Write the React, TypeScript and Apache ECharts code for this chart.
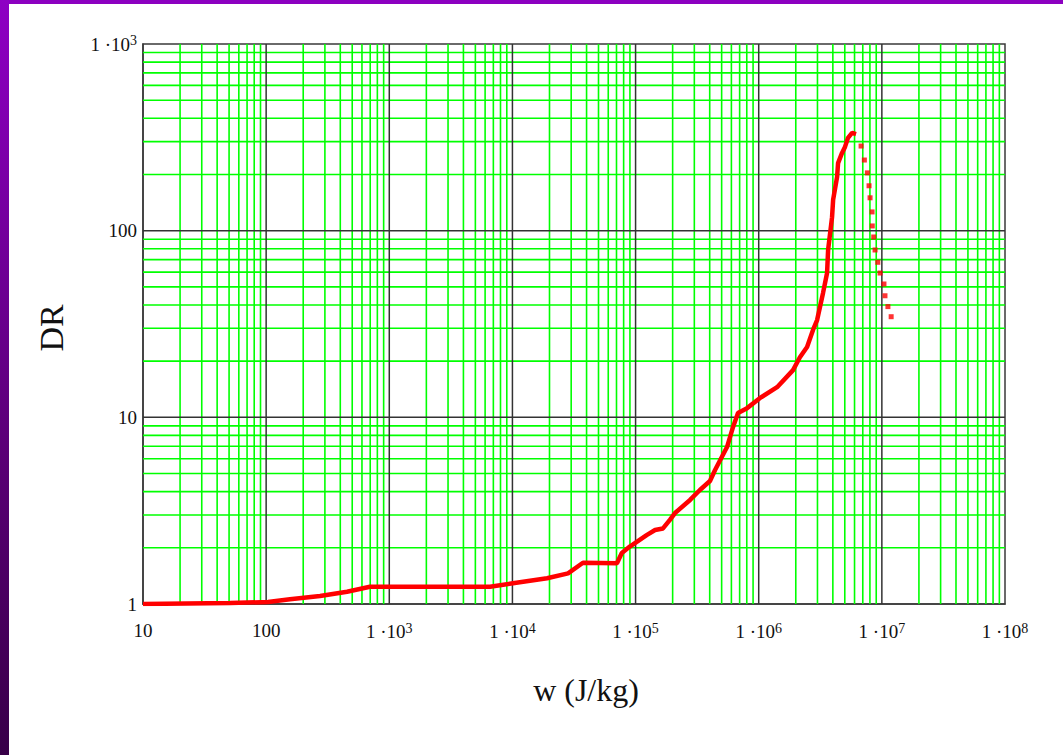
import React, { useEffect, useRef } from "react";
import * as echarts from "echarts";

// Solid part of the DR(w) curve
const solidW = [10, 51, 103.5, 156, 274, 454, 697, 6580, 10100, 19100, 28300, 37400, 70600, 77300, 89800, 123000, 144000, 167000, 190000, 209000, 277000, 333000, 402000, 442000, 553000, 619000, 679000, 804000, 1.026e6, 1.41e6, 1.9e6, 2.16e6, 2.47e6, 2.76e6, 2.98e6, 3.33e6, 3.59e6, 3.66e6, 3.94e6, 4.02e6, 4.33e6, 4.41e6, 4.75e6, 5.02e6, 5.31e6, 5.73e6, 6.17e6];
const solidDR = [1, 1.012, 1.025, 1.06, 1.104, 1.164, 1.238, 1.238, 1.291, 1.373, 1.46, 1.664, 1.652, 1.876, 2.03, 2.34, 2.49, 2.54, 2.82, 3.07, 3.61, 4.08, 4.56, 5.22, 6.93, 8.88, 10.55, 11.2, 12.7, 14.5, 17.9, 21.0, 23.8, 29.4, 33.2, 46.4, 59.3, 78.8, 118, 146, 194, 230, 261, 281, 314, 334, 329];

// Dotted (falling) part
const dotW = [6.78e6, 7.21e6, 7.63e6, 7.87e6, 8.02e6, 8.33e6, 8.36e6, 8.59e6, 8.81e6, 9.27e6, 9.67e6, 1.04e7, 1.06e7, 1.12e7, 1.19e7];
const dotDR = [284, 239, 204, 174, 150, 126, 106, 92.5, 78.8, 67.7, 59.3, 51.8, 44.8, 39.2, 34.6];

// Axis ranges
const xMin = 10;
const xMax = 1e8;
const yMin = 1;
const yMax = 1000;

// Grid decades (exponents) and minor multipliers
const xDecadeExps = [1, 2, 3, 4, 5, 6, 7];
const yDecadeExps = [0, 1, 2];
const xMajorExps = [2, 3, 4, 5, 6, 7];
const yMajorExps = [1, 2];
const minorMultipliers = [2, 3, 4, 5, 6, 7, 8, 9];

const xTitle = "w (J/kg)";
const yTitle = "DR";

const labelFont = "'Liberation Serif', 'Times New Roman', serif";

function tickLabel(v: number): string {
  const e = Math.round(Math.log10(v));
  if (e <= 2) return String(Math.round(Math.pow(10, e)));
  return `{b|1 ·10}{s|${e}}`;
}

const richLabels = {
  b: { fontSize: 19, lineHeight: 21, fontFamily: labelFont, color: "#111" },
  s: { fontSize: 14, lineHeight: 12, fontFamily: labelFont, color: "#111", verticalAlign: "top" },
};

function gridLineSeries(vals: number[], vertical: boolean, color: string, width: number, z: number) {
  return {
    type: "custom",
    z,
    silent: true,
    clip: false,
    data: vals.map((v) => (vertical ? [v, yMin] : [xMin, v])),
    renderItem: (_params: any, api: any) => {
      if (vertical) {
        const p0 = api.coord([api.value(0), yMin]);
        const p1 = api.coord([api.value(0), yMax]);
        return {
          type: "line",
          shape: { x1: p0[0], y1: p0[1], x2: p0[0], y2: p1[1] },
          style: { stroke: color, lineWidth: width },
        };
      }
      const p0 = api.coord([xMin, api.value(1)]);
      const p1 = api.coord([xMax, api.value(1)]);
      return {
        type: "line",
        shape: { x1: p0[0], y1: p0[1], x2: p1[0], y2: p0[1] },
        style: { stroke: color, lineWidth: width },
      };
    },
  };
}

export default function App() {
  const ref = useRef<HTMLDivElement>(null);
  useEffect(() => {
    const chart = echarts.init(ref.current!, null, { renderer: "svg" });
    const xMinor = xDecadeExps.flatMap((e) => minorMultipliers.map((m) => m * Math.pow(10, e)));
    const yMinor = yDecadeExps.flatMap((e) => minorMultipliers.map((m) => m * Math.pow(10, e)));
    const xMajor = xMajorExps.map((e) => Math.pow(10, e));
    const yMajor = yMajorExps.map((e) => Math.pow(10, e));
    chart.setOption({
      animation: false,
      backgroundColor: "#ffffff",
      grid: {
        left: 143,
        top: 44,
        width: 862,
        height: 560,
        show: true,
        borderColor: "#3a3a3a",
        borderWidth: 1.5,
        backgroundColor: "transparent",
      },
      xAxis: {
        type: "log",
        logBase: 10,
        min: xMin,
        max: xMax,
        splitNumber: 7,
        axisLine: { show: true, lineStyle: { color: "#3a3a3a", width: 1.5 } },
        axisTick: { show: false },
        splitLine: { show: false },
        minorTick: { show: false },
        minorSplitLine: { show: false },
        axisLabel: {
          margin: 17,
          color: "#111",
          fontSize: 19,
          fontFamily: labelFont,
          formatter: tickLabel,
          rich: richLabels,
        },
      },
      yAxis: {
        type: "log",
        logBase: 10,
        min: yMin,
        max: yMax,
        splitNumber: 3,
        axisLine: { show: true, lineStyle: { color: "#3a3a3a", width: 1.5 } },
        axisTick: { show: false },
        splitLine: { show: false },
        minorTick: { show: false },
        minorSplitLine: { show: false },
        axisLabel: {
          margin: 6,
          color: "#111",
          fontSize: 19,
          fontFamily: labelFont,
          formatter: tickLabel,
          rich: richLabels,
        },
      },
      graphic: [
        { type: "rect", shape: { x: 0, y: 0, width: 1063, height: 4 }, style: { fill: "#8c00c0" }, silent: true },
        {
          type: "rect",
          shape: { x: 0, y: 0, width: 9, height: 755 },
          style: {
            fill: new echarts.graphic.LinearGradient(0, 0, 0, 1, [
              { offset: 0, color: "#8e00c4" },
              { offset: 0.6, color: "#5a0076" },
              { offset: 1, color: "#380048" },
            ]),
          },
          silent: true,
        },
        {
          type: "text",
          x: 51,
          y: 328,
          rotation: Math.PI / 2,
          style: {
            text: yTitle,
            fontSize: 34,
            fontFamily: labelFont,
            fill: "#111",
            align: "center",
            verticalAlign: "middle",
          },
        },
        {
          type: "text",
          x: 586,
          y: 690,
          style: {
            text: xTitle,
            fontSize: 32,
            fontFamily: labelFont,
            fill: "#111",
            align: "center",
            verticalAlign: "middle",
          },
        },
      ],
      series: [
        gridLineSeries(xMinor, true, "#00ff00", 1.6, 1),
        gridLineSeries(yMinor, false, "#00ff00", 1.6, 1),
        gridLineSeries(xMajor, true, "#333333", 1.5, 2),
        gridLineSeries(yMajor, false, "#333333", 1.5, 2),
        {
          type: "line",
          z: 3,
          data: solidW.map((w, i) => [w, solidDR[i]]),
          symbol: "none",
          showSymbol: false,
          lineStyle: { color: "#ff0000", width: 4.5 },
        },
        {
          type: "scatter",
          z: 3,
          data: dotW.map((w, i) => [w, dotDR[i]]),
          symbol: "rect",
          symbolSize: 5,
          itemStyle: { color: "#ff0000" },
        },
      ],
    });
    return () => chart.dispose();
  }, []);
  return (
    <div
      ref={ref}
      style={{ position: "absolute", left: 0, top: 0, width: 1063, height: 755, background: "#fff" }}
    />
  );
}
